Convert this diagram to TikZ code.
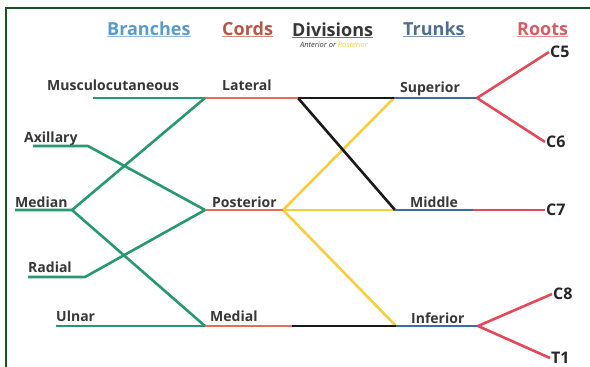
\documentclass[tikz,border=0pt]{standalone}
\usepackage{fontspec}
\setmainfont{Open Sans}
\definecolor{nervegreen}{RGB}{40,152,112}
\definecolor{cordred}{RGB}{222,112,86}
\definecolor{rootred}{RGB}{226,74,92}
\definecolor{trunkblue}{RGB}{58,108,165}
\definecolor{divyellow}{RGB}{246,206,64}
\definecolor{divblack}{RGB}{25,25,25}
\definecolor{labelgray}{RGB}{55,55,55}
\definecolor{framegreen}{RGB}{30,80,35}
\definecolor{hbranch}{RGB}{90,155,200}
\definecolor{hcord}{RGB}{180,88,74}
\definecolor{hdiv}{RGB}{55,55,55}
\definecolor{htrunk}{RGB}{80,110,143}
\definecolor{hroot}{RGB}{212,93,102}
\begin{document}
\begin{tikzpicture}[x=1pt,y=-1pt,
  lbl/.style={font=\bfseries\fontsize{14}{15}\selectfont, text=labelgray, inner sep=0pt, anchor=base west},
  hdr/.style={font=\bfseries\fontsize{18}{20}\selectfont, inner sep=0pt, anchor=base west},
  rootlbl/.style={font=\bfseries\fontsize{16}{16}\selectfont, text=black!85, inner sep=1pt, anchor=west},
  nerve/.style={line width=2.6pt, line join=round},
  grn/.style={nerve, nervegreen},
  crd/.style={nerve, cordred},
  rt/.style={nerve, rootred},
  trk/.style={nerve, trunkblue},
  ylw/.style={nerve, divyellow},
  blk/.style={nerve, divblack}]
\useasboundingbox (0,0) rectangle (590,367);
\fill[white] (0,0) rectangle (590,367);
\draw[framegreen, line width=1.2pt] (6,367) -- (6,8) -- (590,8);

% headers
\node[hdr, text=hbranch] (hB) at (107,35) {Branches};
\node[hdr, text=hcord] (hC) at (222,35) {Cords};
\node[hdr, text=hdiv] (hD) at (292,36) {Divisions};
\node[hdr, text=htrunk] (hT) at (403,35) {Trunks};
\node[hdr, text=hroot] (hR) at (517,35) {Roots};
\foreach \h/\c in {hB/hbranch,hC/hcord,hD/hdiv,hT/htrunk,hR/hroot}
  \draw[\c!70, line width=0.8pt] ([yshift=-1.5pt]\h.base west) -- ([yshift=-1.5pt]\h.base east);
\node[font=\itshape\fontsize{7.5}{7.5}\selectfont, inner sep=0pt] (hsub) at (334,45)
  {\textcolor{labelgray}{Anterior or} \textcolor{divyellow}{Posterior}};

% junction coordinates
\coordinate (mcS) at (93,98);
\coordinate (latJ) at (205,98);
\coordinate (latE) at (298,98);
\coordinate (supJ) at (394,98);
\coordinate (supE) at (477,98);
\coordinate (axS) at (33,146);
\coordinate (axB) at (88,146);
\coordinate (medS) at (15,210);
\coordinate (medJ) at (72,210);
\coordinate (postJ) at (205,210);
\coordinate (postE) at (283,210);
\coordinate (midJ) at (395,210);
\coordinate (midM) at (473,210);
\coordinate (radS) at (28,277);
\coordinate (radB) at (85,277);
\coordinate (ulS) at (56,326);
\coordinate (medlJ) at (205,326);
\coordinate (medlM) at (292,326);
\coordinate (infJ) at (396,326);
\coordinate (infE) at (478,326);

% labels
\node[lbl] (lMC) at (47,90) {Musculocutaneous};
\node[lbl] (lLat) at (222,90) {Lateral};
\node[lbl] (lSup) at (400,92) {Superior};
\node[lbl] (lAx) at (24,142) {Axillary};
\node[lbl] (lMed) at (15,207) {Median};
\node[lbl] (lPost) at (212,207) {Posterior};
\node[lbl] (lMid) at (410,207) {Middle};
\node[lbl] (lRad) at (28,272) {Radial};
\node[lbl] (lUl) at (56,321) {Ulnar};
\node[lbl] (lMedl) at (210,321) {Medial};
\node[lbl] (lInf) at (411,323) {Inferior};

% root labels
\node[rootlbl] (C5) at (549,52) {C5};
\node[rootlbl] (C6) at (545,142) {C6};
\node[rootlbl] (C7) at (545,210) {C7};
\node[rootlbl] (C8) at (552,294) {C8};
\node[rootlbl] (T1) at (550,358) {T1};

% divisions
\draw[ylw] (postE) -- (supJ);
\draw[ylw] (postE) -- (midJ);
\draw[ylw] (postE) -- (infJ);
\draw[blk] (latE) -- (supJ);
\draw[blk] (latE) -- (midJ);
\draw[blk] (medlM) -- (infJ);

% cords
\draw[crd] (latJ) -- (latE);
\draw[crd] (postJ) -- (postE);
\draw[crd] (medlJ) -- (medlM);

% trunks
\draw[trk] (supJ) -- (supE);
\draw[trk] (midJ) -- (midM);
\draw[trk] (infJ) -- (infE);

% roots
\draw[rt] (supE) -- (C5.west);
\draw[rt] (supE) -- (C6.west);
\draw[rt] (midM) -- (C7.west);
\draw[rt] (infE) -- (C8.west);
\draw[rt] (infE) -- (T1.west);

% branches
\draw[grn] (mcS) -- (latJ);
\draw[grn] (latJ) -- (medJ);
\draw[grn] (axS) -- (axB) -- (postJ);
\draw[grn] (medS) -- (medJ) -- (medlJ);
\draw[grn] (radS) -- (radB) -- (postJ);
\draw[grn] (ulS) -- (medlJ);
\end{tikzpicture}
\end{document}
